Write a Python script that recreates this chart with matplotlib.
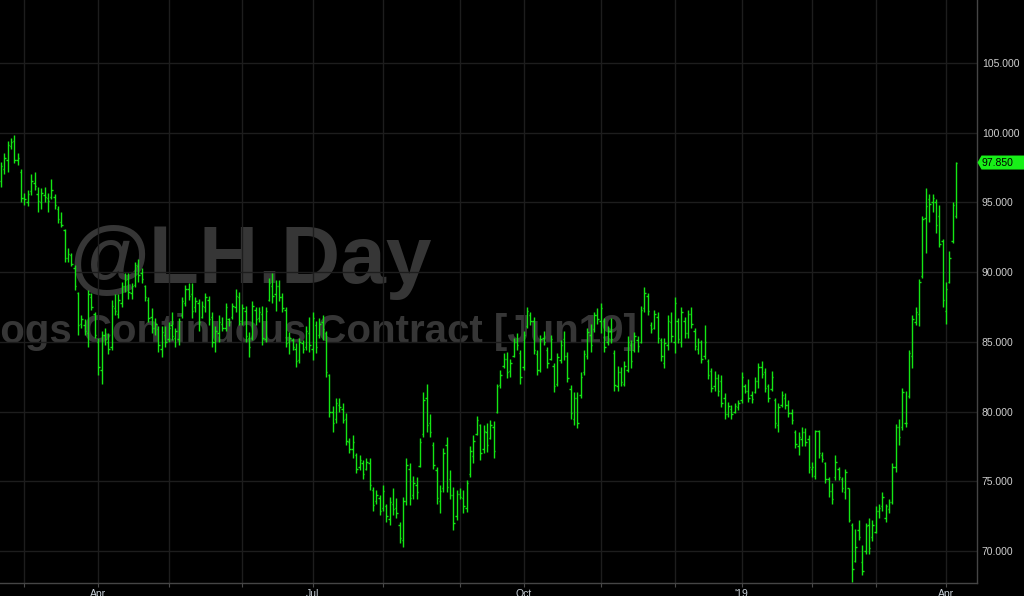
import numpy as np
import pandas as pd
import matplotlib
matplotlib.use("Agg")
import matplotlib.pyplot as plt
import matplotlib.transforms as mtransforms
from matplotlib.collections import LineCollection
from matplotlib.patches import Polygon
from matplotlib.ticker import FuncFormatter
from pandas.tseries.offsets import CustomBusinessDay

plt.rcParams["font.family"] = ["Liberation Sans", "DejaVu Sans"]

symbol = "@LH.Day"
contract_name = "Lean Hogs Continuous Contract [Jun19]"
last_date = "2019-04-04"
exchange_holidays = ["2018-02-19", "2018-05-28", "2018-07-04", "2018-09-03",
                     "2018-12-25", "2019-01-01", "2019-01-21", "2019-02-18"]

highs = [
    97.9, 98.5, 99.4, 99.6, 99.8, 98.5, 97.4, 95.7, 95.9, 97.0,
    97.2, 96.1, 96.0, 96.1, 95.7, 96.7, 95.6, 94.7, 94.3, 93.1,
    91.7, 91.4, 90.5, 88.6, 86.9, 86.6, 88.7, 88.5, 87.1, 85.3,
    85.8, 86.0, 85.6, 88.0, 88.4, 88.4, 89.3, 89.9, 89.9, 89.2,
    90.7, 90.9, 90.3, 89.1, 88.2, 87.4, 86.7, 86.1, 86.1, 86.1,
    86.4, 87.1, 86.0, 86.7, 88.2, 89.1, 89.2, 89.2, 88.2, 88.1,
    87.9, 88.5, 88.3, 87.1, 86.1, 86.9, 86.8, 87.8, 86.7, 87.8,
    88.8, 88.6, 87.7, 87.6, 85.7, 87.9, 87.5, 87.5, 87.6, 87.5,
    89.6, 89.9, 89.4, 89.4, 88.5, 87.5, 85.7, 85.3, 84.9, 85.3,
    85.1, 86.1, 86.8, 87.1, 86.5, 86.7, 86.9, 85.8, 82.7, 80.4,
    81.0, 81.0, 80.6, 79.9, 78.1, 78.3, 77.0, 76.9, 76.5, 76.7,
    76.7, 74.6, 74.4, 74.0, 74.7, 73.4, 73.9, 74.5, 73.8, 72.1,
    73.9, 76.7, 76.3, 75.4, 75.3, 78.1, 81.4, 82.0, 79.8, 77.8,
    76.0, 74.7, 77.4, 78.2, 75.8, 74.6, 74.4, 74.5, 74.4, 75.1,
    77.5, 78.3, 79.7, 79.1, 79.0, 79.2, 79.4, 79.3, 82.0, 83.0,
    84.2, 84.3, 83.8, 85.3, 85.6, 84.4, 85.8, 87.5, 87.1, 86.8,
    84.4, 85.5, 85.8, 84.6, 85.5, 83.5, 84.2, 85.1, 85.8, 84.3,
    81.9, 81.4, 81.4, 82.8, 84.4, 86.0, 86.3, 87.1, 87.4, 87.8,
    86.7, 86.1, 86.7, 84.4, 83.3, 83.2, 83.6, 85.4, 85.1, 85.7,
    85.4, 87.6, 88.9, 88.5, 86.4, 87.3, 87.1, 85.3, 85.3, 86.9,
    87.1, 88.2, 86.7, 87.5, 86.8, 87.3, 87.5, 86.0, 85.3, 85.1,
    86.2, 83.8, 83.1, 82.9, 82.7, 82.6, 81.3, 80.7, 80.5, 80.6,
    80.8, 82.8, 82.0, 82.3, 81.5, 82.5, 83.5, 83.6, 83.1, 82.0,
    82.9, 81.0, 80.6, 81.5, 81.3, 80.8, 80.2, 78.7, 78.5, 78.9,
    78.8, 78.3, 76.4, 78.7, 78.7, 77.1, 76.4, 75.3, 74.9, 76.9,
    76.0, 75.3, 75.9, 74.5, 72.0, 71.6, 72.2, 70.4, 72.0, 72.4,
    72.2, 73.2, 73.4, 74.2, 73.4, 73.7, 76.3, 79.1, 79.5, 81.7,
    81.5, 84.4, 86.9, 87.5, 89.5, 94.0, 96.0, 95.6, 95.6, 95.2,
    94.8, 92.4, 89.3, 91.5, 95.0, 97.9,
]
lows = [
    96.1, 97.0, 97.2, 98.8, 97.8, 97.7, 95.0, 94.8, 94.7, 95.5,
    95.9, 94.3, 94.5, 95.0, 94.3, 95.2, 94.5, 93.5, 93.2, 90.7,
    90.7, 90.4, 88.7, 85.5, 86.0, 85.5, 84.6, 87.3, 85.3, 82.6,
    82.0, 84.8, 84.1, 84.4, 86.9, 86.7, 87.5, 88.6, 88.1, 88.1,
    88.9, 89.3, 89.2, 87.9, 86.4, 85.6, 85.5, 84.3, 83.9, 84.6,
    85.0, 85.1, 84.6, 84.8, 86.7, 87.6, 88.0, 86.7, 87.1, 85.8,
    86.7, 87.1, 86.2, 84.6, 84.3, 85.0, 85.8, 85.8, 86.1, 86.6,
    87.1, 86.2, 86.2, 85.0, 83.9, 85.1, 86.2, 86.4, 84.8, 85.0,
    87.9, 87.8, 87.2, 87.9, 87.1, 84.6, 84.1, 84.4, 83.2, 83.5,
    84.2, 84.4, 84.3, 83.7, 84.2, 85.3, 85.1, 82.5, 79.6, 78.5,
    79.2, 80.0, 79.2, 77.6, 77.0, 76.7, 75.6, 75.8, 75.2, 75.8,
    74.4, 72.9, 73.4, 72.6, 72.9, 72.1, 71.9, 72.6, 72.4, 70.6,
    70.3, 73.3, 73.3, 73.7, 73.7, 76.0, 78.2, 78.5, 78.2, 75.9,
    73.4, 72.7, 74.2, 74.2, 73.7, 71.5, 72.2, 73.7, 72.7, 72.8,
    75.3, 76.3, 78.3, 76.5, 77.0, 77.1, 78.0, 76.7, 79.9, 81.7,
    83.1, 82.4, 82.5, 83.9, 84.4, 82.0, 83.0, 86.0, 86.2, 84.1,
    82.6, 82.8, 84.8, 83.1, 83.7, 81.4, 81.8, 83.5, 83.7, 82.1,
    79.5, 79.0, 78.8, 81.0, 82.6, 83.8, 84.3, 85.7, 86.3, 85.6,
    84.3, 84.8, 84.9, 81.5, 81.5, 81.8, 81.8, 82.8, 83.1, 84.3,
    84.3, 84.9, 87.1, 86.9, 85.6, 85.9, 84.9, 83.6, 83.1, 84.4,
    85.0, 84.2, 84.9, 84.6, 85.3, 85.3, 86.0, 84.4, 84.1, 83.5,
    83.8, 82.3, 81.4, 81.5, 81.1, 80.3, 79.5, 79.6, 79.5, 79.9,
    80.1, 80.6, 81.3, 80.7, 80.6, 81.3, 81.7, 82.4, 81.4, 80.7,
    81.5, 78.8, 78.5, 80.3, 80.2, 79.6, 79.1, 77.4, 76.9, 77.5,
    77.5, 75.6, 75.3, 75.2, 76.7, 76.4, 74.9, 73.9, 73.4, 75.1,
    75.1, 74.2, 73.7, 72.1, 67.8, 69.2, 70.8, 68.3, 69.8, 69.8,
    70.7, 71.3, 72.4, 72.9, 72.1, 72.7, 73.4, 75.7, 77.6, 78.7,
    78.9, 81.0, 83.1, 86.2, 86.1, 89.6, 91.4, 93.6, 94.3, 92.8,
    91.8, 87.5, 86.3, 89.2, 92.1, 93.9,
]
opens = [
    96.5, 97.4, 98.0, 99.0, 99.4, 98.0, 97.2, 95.3, 95.0, 95.8,
    96.4, 95.6, 95.0, 95.5, 95.3, 95.4, 95.4, 94.5, 93.6, 93.0,
    91.0, 91.2, 90.3, 88.5, 86.3, 86.2, 85.6, 88.2, 87.0, 85.0,
    83.0, 85.5, 85.0, 84.6, 87.4, 87.0, 87.8, 89.0, 89.5, 88.5,
    89.1, 90.4, 89.9, 89.0, 88.0, 86.8, 86.0, 85.9, 84.5, 85.5,
    85.2, 86.2, 85.3, 85.2, 86.9, 87.8, 88.8, 88.4, 87.5, 87.8,
    86.8, 87.5, 88.0, 86.8, 85.0, 85.6, 86.3, 86.0, 86.6, 86.8,
    87.5, 88.2, 86.5, 87.2, 85.3, 85.3, 87.3, 86.7, 87.0, 85.2,
    88.0, 89.0, 88.4, 89.0, 88.2, 87.3, 85.0, 85.1, 84.5, 83.7,
    84.9, 84.6, 85.6, 84.5, 86.2, 85.5, 86.4, 85.6, 82.6, 80.0,
    79.5, 80.5, 80.2, 79.5, 77.8, 77.3, 76.9, 76.0, 76.3, 75.9,
    76.3, 74.4, 73.6, 73.8, 73.1, 73.2, 72.3, 73.4, 73.1, 71.9,
    70.8, 73.6, 75.9, 74.0, 74.7, 76.1, 78.4, 81.0, 79.2, 77.6,
    75.8, 73.6, 74.5, 77.6, 75.2, 74.0, 72.5, 74.1, 73.8, 73.1,
    75.5, 76.8, 78.4, 79.0, 77.3, 78.5, 78.1, 78.9, 80.0, 81.9,
    83.3, 83.8, 82.9, 84.0, 85.0, 84.2, 83.2, 86.1, 86.9, 86.5,
    84.1, 83.0, 85.3, 84.4, 83.8, 83.3, 82.0, 83.7, 85.2, 84.0,
    81.6, 79.5, 81.0, 81.2, 82.8, 84.0, 85.5, 85.9, 86.9, 86.5,
    86.5, 85.0, 85.8, 84.2, 81.8, 82.8, 82.0, 83.0, 84.8, 84.4,
    85.1, 85.0, 87.4, 88.3, 86.2, 86.0, 86.8, 85.1, 83.5, 84.8,
    86.4, 85.0, 86.5, 85.0, 86.5, 85.6, 87.0, 85.8, 84.5, 85.0,
    84.0, 83.6, 82.9, 81.8, 82.4, 82.2, 81.0, 79.8, 80.2, 80.0,
    80.3, 80.8, 81.8, 81.5, 81.2, 81.4, 82.2, 83.2, 82.8, 81.8,
    81.6, 80.8, 79.0, 80.5, 81.0, 80.5, 79.9, 78.5, 77.5, 78.0,
    78.5, 78.0, 75.9, 75.4, 78.6, 76.9, 76.3, 75.2, 74.3, 75.3,
    75.9, 75.2, 74.2, 74.5, 71.9, 69.3, 71.5, 69.2, 70.0, 71.9,
    71.0, 71.4, 72.9, 73.2, 72.4, 73.0, 73.5, 76.0, 78.9, 78.9,
    79.2, 81.1, 84.0, 86.4, 87.0, 89.7, 93.9, 95.2, 95.0, 95.0,
    94.0, 92.2, 87.2, 89.3, 92.2, 94.0,
]
closes = [
    97.6, 98.2, 99.1, 99.3, 98.0, 98.2, 95.3, 95.2, 95.6, 96.5,
    96.2, 95.1, 95.7, 95.4, 95.1, 95.9, 94.8, 93.8, 93.4, 91.0,
    91.3, 90.6, 89.0, 86.2, 86.6, 85.8, 88.4, 87.5, 85.5, 83.2,
    85.5, 85.2, 84.5, 87.6, 87.2, 88.0, 89.0, 89.4, 88.6, 89.0,
    90.5, 89.8, 89.5, 88.2, 86.7, 86.0, 86.3, 84.8, 85.7, 85.0,
    86.0, 85.4, 85.8, 86.5, 87.9, 88.8, 88.3, 87.2, 87.9, 86.4,
    87.6, 88.2, 86.6, 85.0, 85.8, 86.4, 86.0, 87.5, 86.4, 87.6,
    88.3, 86.5, 87.4, 85.4, 84.6, 87.6, 86.6, 87.1, 85.3, 87.2,
    89.2, 88.3, 89.0, 88.2, 87.4, 84.9, 85.3, 84.6, 83.6, 85.0,
    84.5, 85.8, 84.8, 86.7, 84.6, 86.3, 85.9, 82.8, 80.0, 79.2,
    80.6, 80.3, 79.4, 77.9, 77.3, 77.8, 75.9, 76.5, 75.5, 76.4,
    74.7, 73.3, 74.0, 72.9, 74.3, 72.5, 73.5, 73.0, 72.7, 70.9,
    73.6, 76.2, 73.8, 74.9, 74.2, 77.8, 80.8, 79.0, 78.5, 76.2,
    73.8, 74.3, 77.0, 74.6, 74.0, 72.0, 74.1, 73.9, 73.2, 74.9,
    77.2, 77.9, 79.4, 77.0, 78.6, 77.6, 79.0, 77.2, 81.8, 82.6,
    83.8, 82.8, 83.5, 85.0, 84.8, 82.5, 85.5, 87.2, 86.5, 84.4,
    83.0, 85.2, 85.0, 83.5, 85.2, 81.8, 83.9, 84.8, 84.0, 82.4,
    79.9, 81.0, 79.2, 82.5, 84.1, 85.7, 84.8, 86.9, 86.6, 87.4,
    84.6, 85.8, 85.2, 81.9, 82.8, 82.1, 83.3, 85.0, 83.6, 85.4,
    84.7, 87.3, 88.5, 87.2, 85.9, 87.0, 85.3, 84.0, 84.9, 86.5,
    85.4, 87.8, 85.2, 87.1, 85.6, 87.0, 86.3, 84.7, 85.0, 83.8,
    85.0, 82.6, 81.7, 82.4, 81.5, 80.6, 79.8, 80.4, 79.8, 80.4,
    80.6, 82.5, 81.5, 81.0, 80.9, 82.2, 83.2, 82.7, 81.7, 81.0,
    82.5, 79.2, 80.3, 81.2, 80.5, 79.9, 79.4, 77.7, 78.2, 78.5,
    77.8, 76.0, 76.0, 78.6, 77.0, 76.6, 75.2, 74.3, 73.7, 76.4,
    75.3, 74.5, 75.7, 72.2, 68.7, 70.3, 71.0, 68.6, 71.8, 70.2,
    71.9, 72.9, 73.1, 73.9, 73.2, 73.5, 76.0, 78.9, 78.2, 81.4,
    79.2, 84.2, 86.6, 87.1, 89.3, 93.8, 94.7, 94.9, 95.3, 93.4,
    92.0, 88.0, 88.8, 91.0, 94.8, 97.85,
]

n = len(closes)
dates = pd.date_range(end=last_date, periods=n,
                      freq=CustomBusinessDay(holidays=exchange_holidays))
xs = np.arange(n)

fig = plt.figure(figsize=(10.24, 5.96), dpi=100, facecolor="black")
ax = fig.add_axes([0, 13 / 596, 977 / 1024, 583 / 596])
ax.set_facecolor("black")

# watermark behind the bars
ax.text(251 / 1024, 1 - 283 / 596, symbol, transform=fig.transFigure,
        ha="center", va="baseline", fontsize=59, fontweight="bold",
        color="#363636", zorder=0.3)
ax.text(251 / 1024, 1 - 343 / 596, contract_name, transform=fig.transFigure,
        ha="center", va="baseline", fontsize=29, fontweight="bold",
        color="#363636", zorder=0.3)

# OHLC bars
tick_w = 0.42
segs = []
for i in range(n):
    segs.append([(xs[i], lows[i]), (xs[i], highs[i])])
    segs.append([(xs[i] - tick_w, opens[i]), (xs[i], opens[i])])
    segs.append([(xs[i], closes[i]), (xs[i] + tick_w, closes[i])])
ax.add_collection(LineCollection(segs, colors="#14e614", linewidths=1.0, zorder=2))

px_per_bar = 955 / (n - 1)
ax.set_xlim(-1 / px_per_bar, (n - 1) + 21 / px_per_bar)
ax.set_ylim(67.71, 109.5)

# month ticks, labels only at quarter starts
month_idx = [i for i in range(1, n) if dates[i].month != dates[i - 1].month]
month_lbl = []
for i in month_idx:
    d = dates[i]
    if d.month == 1:
        month_lbl.append("'" + d.strftime("%y"))
    elif d.month in (4, 7, 10):
        month_lbl.append(d.strftime("%b"))
    else:
        month_lbl.append("")
ax.set_xticks(month_idx)
ax.set_xticklabels(month_lbl)

ax.yaxis.tick_right()
ax.set_yticks(np.arange(70, 106, 5))
ax.yaxis.set_major_formatter(FuncFormatter(lambda v, p: f"{v:.3f}"))

ax.tick_params(axis="y", length=0, pad=3.5, labelsize=7.5, labelcolor="#cfcfcf")
ax.tick_params(axis="x", length=3, color="#4a4a4a", pad=1.0, labelsize=7.5,
               labelcolor="#c8d0d8")
ax.grid(True, color="#1d1d1d", linewidth=1.0)
ax.set_axisbelow(True)

for side in ("left", "top"):
    ax.spines[side].set_visible(False)
for side in ("right", "bottom"):
    ax.spines[side].set_color("#454545")
    ax.spines[side].set_linewidth(1.0)

# last price tag, drawn in pixel space next to the axis
y_tag = ax.transData.transform((0, closes[-1]))[1]
x0 = 977.5
tag = Polygon([(x0, y_tag), (x0 + 4, y_tag + 7), (1024, y_tag + 7),
               (1024, y_tag - 7), (x0 + 4, y_tag - 7)],
              closed=True, facecolor="#18f018", edgecolor="none",
              transform=mtransforms.IdentityTransform())
fig.add_artist(tag)
fig.text(x0 + 4.5, y_tag, f"{closes[-1]:.3f}", transform=mtransforms.IdentityTransform(),
         ha="left", va="center", fontsize=7.5, color="black")

fig.savefig("out.png", dpi=100, facecolor="black")
